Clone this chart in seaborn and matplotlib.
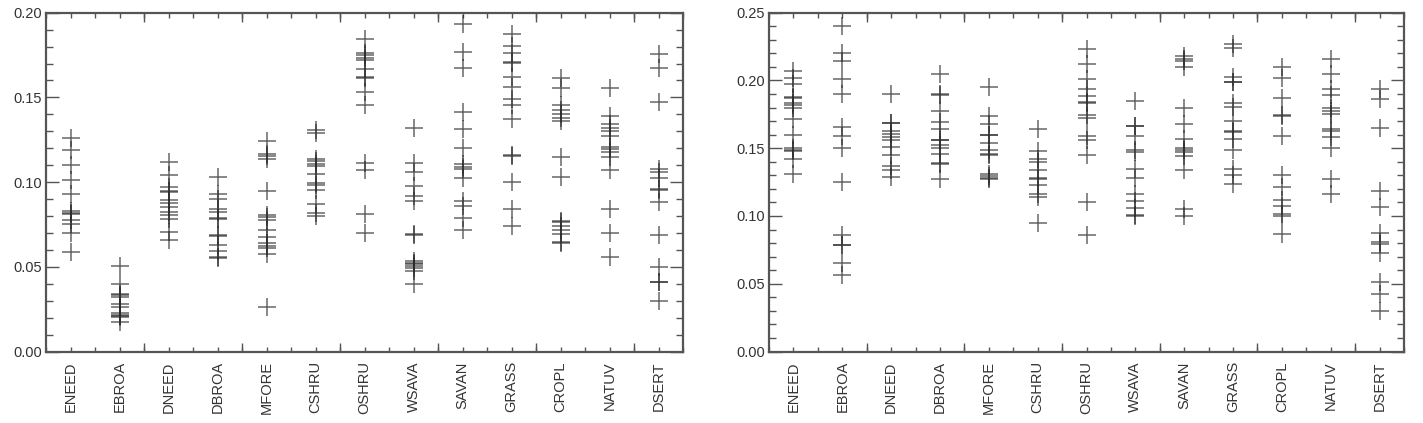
import numpy as np
import pandas as pd
import matplotlib
matplotlib.use("Agg")
import matplotlib.pyplot as plt
import seaborn as sns
from matplotlib.ticker import FixedLocator, MultipleLocator

categories = ["ENEED", "EBROA", "DNEED", "DBROA", "MFORE", "CSHRU", "OSHRU",
              "WSAVA", "SAVAN", "GRASS", "CROPL", "NATUV", "DSERT"]

# ---- left panel values ----
L_ENEED = [0.126, 0.119, 0.110, 0.101, 0.093, 0.0828, 0.0820, 0.0812, 0.0776, 0.0755, 0.0697, 0.0587]
L_EBROA = [0.0506, 0.0396, 0.0338, 0.0331, 0.0324, 0.0283, 0.0264, 0.0225, 0.0218, 0.0211, 0.0203, 0.0175]
L_DNEED = [0.1120, 0.1039, 0.0970, 0.0945, 0.0940, 0.0894, 0.0874, 0.0854, 0.0825, 0.0805, 0.0785, 0.0707, 0.0657]
L_DBROA = [0.1028, 0.0927, 0.0900, 0.0841, 0.0821, 0.0790, 0.0782, 0.0690, 0.0684, 0.0628, 0.0594, 0.0558, 0.0552]
L_MFORE = [0.1240, 0.1166, 0.1157, 0.1138, 0.0948, 0.0804, 0.0793, 0.0777, 0.0715, 0.0678, 0.0642, 0.0625, 0.0611, 0.0578, 0.0264]
L_CSHRU = [0.1310, 0.1290, 0.1139, 0.1124, 0.1108, 0.1095, 0.1050, 0.0994, 0.0984, 0.0951, 0.0868, 0.0815, 0.0800]
L_OSHRU = [0.1843, 0.1764, 0.1750, 0.1734, 0.1720, 0.1665, 0.1618, 0.1612, 0.1533, 0.1455, 0.1110, 0.1071, 0.0809, 0.0697]
L_WSAVA = [0.1321, 0.1110, 0.1061, 0.0978, 0.0919, 0.0890, 0.0695, 0.0690, 0.0535, 0.0525, 0.0515, 0.0505, 0.0490, 0.0478, 0.0398]
L_SAVAN = [0.1933, 0.1770, 0.1675, 0.1411, 0.1311, 0.1199, 0.1106, 0.1091, 0.1077, 0.1022, 0.0888, 0.0858, 0.0789, 0.0717]
L_GRASS = [0.1874, 0.1803, 0.1764, 0.1707, 0.1702, 0.1622, 0.1563, 0.1490, 0.1455, 0.1372, 0.1158, 0.1154, 0.0998, 0.0839, 0.0740]
L_CROPL = [0.1616, 0.1553, 0.1455, 0.1425, 0.1400, 0.1376, 0.1360, 0.1150, 0.1028, 0.0768, 0.0764, 0.0742, 0.0717, 0.0691, 0.0644, 0.0640]
L_NATUV = [0.1553, 0.1392, 0.1341, 0.1321, 0.1301, 0.1274, 0.1209, 0.1195, 0.1179, 0.1150, 0.1071, 0.0839, 0.0697, 0.0559]
L_DSERT = [0.1754, 0.1675, 0.1474, 0.1077, 0.1057, 0.1022, 0.0959, 0.0955, 0.0880, 0.0687, 0.0496, 0.0413, 0.0409, 0.0297]

# ---- right panel values ----
R_ENEED = [0.2071, 0.2017, 0.1971, 0.1880, 0.1874, 0.1836, 0.1816, 0.1797, 0.1718, 0.1600, 0.1500, 0.1490, 0.1480, 0.1419, 0.1309]
R_EBROA = [0.2404, 0.2201, 0.2142, 0.2012, 0.1902, 0.1659, 0.1591, 0.1502, 0.1250, 0.0860, 0.0789, 0.0785, 0.0652, 0.0566]
R_DNEED = [0.1902, 0.1688, 0.1684, 0.1627, 0.1603, 0.1583, 0.1564, 0.1510, 0.1449, 0.1370, 0.1338, 0.1289]
R_DBROA = [0.2049, 0.1897, 0.1893, 0.1772, 0.1694, 0.1640, 0.1561, 0.1557, 0.1522, 0.1502, 0.1461, 0.1389, 0.1385, 0.1270]
R_MFORE = [0.1951, 0.1740, 0.1681, 0.1598, 0.1594, 0.1540, 0.1490, 0.1458, 0.1453, 0.1310, 0.1294, 0.1282, 0.1272]
R_CSHRU = [0.1640, 0.1480, 0.1424, 0.1400, 0.1338, 0.1277, 0.1270, 0.1228, 0.1164, 0.1142, 0.0949]
R_OSHRU = [0.2233, 0.2123, 0.2012, 0.1939, 0.1882, 0.1838, 0.1834, 0.1748, 0.1723, 0.1588, 0.1559, 0.1449, 0.1100, 0.0860]
R_WSAVA = [0.1848, 0.1666, 0.1662, 0.1591, 0.1485, 0.1471, 0.1348, 0.1282, 0.1159, 0.1110, 0.1061, 0.1004, 0.1000]
R_SAVAN = [0.2179, 0.2159, 0.2140, 0.2103, 0.1799, 0.1681, 0.1571, 0.1505, 0.1488, 0.1473, 0.1441, 0.1338, 0.1051, 0.1000]
R_GRASS = [0.2270, 0.2240, 0.2029, 0.1990, 0.1986, 0.1833, 0.1804, 0.1701, 0.1627, 0.1623, 0.1571, 0.1490, 0.1343, 0.1301, 0.1233]
R_CROPL = [0.2100, 0.2020, 0.1870, 0.1745, 0.1741, 0.1591, 0.1301, 0.1211, 0.1118, 0.1074, 0.1017, 0.1002, 0.0868]
R_NATUV = [0.2159, 0.2051, 0.1939, 0.1890, 0.1799, 0.1775, 0.1755, 0.1645, 0.1625, 0.1583, 0.1498, 0.1270, 0.1159]
R_DSERT = [0.1939, 0.1860, 0.1652, 0.1186, 0.1069, 0.0877, 0.0811, 0.0792, 0.0730, 0.0510, 0.0426, 0.0301]

left_series = [L_ENEED, L_EBROA, L_DNEED, L_DBROA, L_MFORE, L_CSHRU, L_OSHRU,
               L_WSAVA, L_SAVAN, L_GRASS, L_CROPL, L_NATUV, L_DSERT]
right_series = [R_ENEED, R_EBROA, R_DNEED, R_DBROA, R_MFORE, R_CSHRU, R_OSHRU,
                R_WSAVA, R_SAVAN, R_GRASS, R_CROPL, R_NATUV, R_DSERT]


def to_frame(series):
    rows = []
    for cat, vals in zip(categories, series):
        for v in vals:
            rows.append((cat, v))
    return pd.DataFrame(rows, columns=["type", "value"])


sns.set_theme(style="white")
plt.rcParams["font.family"] = ["Liberation Sans", "DejaVu Sans"]

fig = plt.figure(figsize=(14.23, 4.23), dpi=100)
ax1 = fig.add_axes([46 / 1423, 1 - 351.5 / 423, 637 / 1423, 338.8 / 423])
ax2 = fig.add_axes([769 / 1423, 1 - 351.5 / 423, 635 / 1423, 338.8 / 423])

mark_color = "#2b2b2b"
axis_color = "#555555"
text_color = "#333333"

for ax, series, ymax in [(ax1, left_series, 0.20), (ax2, right_series, 0.25)]:
    df = to_frame(series)
    sns.stripplot(data=df, x="type", y="value", order=categories, jitter=False,
                  marker="+", size=13.5, linewidth=1.1, color=mark_color,
                  alpha=0.72, ax=ax)
    ax.set_xlim(-0.5, 12.5)
    ax.set_ylim(0, ymax)
    ax.set_xlabel("")
    ax.set_ylabel("")

    # y ticks
    ax.yaxis.set_minor_locator(MultipleLocator(0.01))
    yt = np.arange(0, ymax + 1e-9, 0.05)
    ax.set_yticks(yt)
    ax.set_yticklabels([f"{t:.2f}" for t in yt])
    ax.yaxis.set_minor_locator(MultipleLocator(0.01))
    ax.tick_params(axis="y", which="major", direction="in", length=9.5, width=1.0,
                   left=True, right=True, color=axis_color, labelsize=10.5,
                   labelcolor=text_color, pad=3)
    ax.tick_params(axis="y", which="minor", direction="in", length=5, width=1.0,
                   left=True, right=True, color=axis_color)

    # x ticks: categories (short, labelled) + half positions (short) + long every 2
    ax.set_xticks(range(len(categories)))
    ax.set_xticklabels(categories, rotation=90)
    ax.xaxis.set_minor_locator(FixedLocator([k + 0.5 for k in range(-1, 13)]))
    ax.tick_params(axis="x", which="major", direction="in", length=3.5, width=1.0,
                   bottom=True, top=True, color=axis_color, labelsize=10.5,
                   labelcolor=text_color, pad=7)
    ax.tick_params(axis="x", which="minor", direction="in", length=3.5, width=1.0,
                   bottom=True, top=True, color=axis_color)
    for loc in ["bottom", "top"]:
        sec = ax.secondary_xaxis(loc)
        sec.set_xticks([1.5 + 2 * k for k in range(6)])
        sec.set_xticklabels([])
        sec.tick_params(direction="in", length=6.5, width=1.0, color=axis_color)
        sec.spines[loc].set_visible(False)

    for sp in ax.spines.values():
        sp.set_color(axis_color)
        sp.set_linewidth(1.6)

fig.savefig("out.png", dpi=100)
